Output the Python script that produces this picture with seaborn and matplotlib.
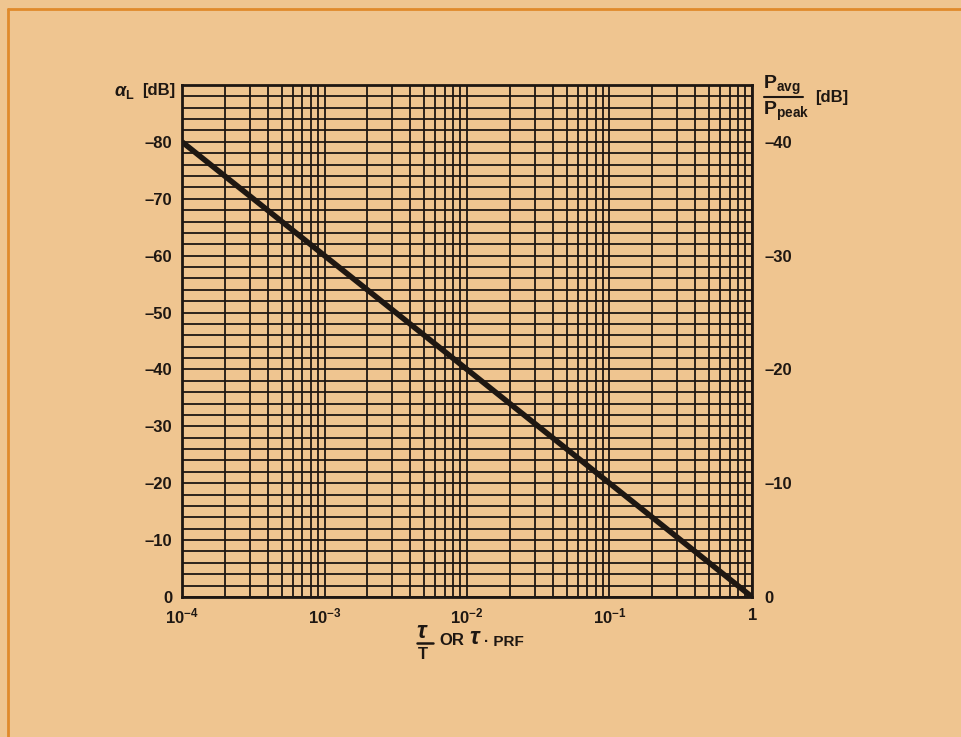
import numpy as np
import pandas as pd
import matplotlib
matplotlib.use("Agg")
import matplotlib.pyplot as plt
import seaborn as sns
from matplotlib.ticker import FixedLocator, MultipleLocator, LogLocator, NullFormatter

# ---- data ----
duty_cycle = [1e-4, 1.0]            # tau/T
alpha_L = [-80, 0]                  # dB
x_ticks = [1e-4, 1e-3, 1e-2, 1e-1, 1]
x_tick_labels = [r"$\mathbf{10^{-4}}$", r"$\mathbf{10^{-3}}$", r"$\mathbf{10^{-2}}$",
                 r"$\mathbf{10^{-1}}$", r"$\mathbf{1}$"]
left_ticks = [0, -10, -20, -30, -40, -50, -60, -70, -80]
left_tick_labels = ["0", "\u201310", "\u201320", "\u201330", "\u201340", "\u201350", "\u201360", "\u201370", "\u201380"]
right_ticks = [0, -10, -20, -30, -40]
right_tick_labels = ["0", "\u201310", "\u201320", "\u201330", "\u201340"]

BG = "#efc590"
INK = "#1e1712"

sns.set_theme(style="white")
plt.rcParams["font.family"] = ["Liberation Sans", "DejaVu Sans"]
plt.rcParams["mathtext.fontset"] = "custom"
plt.rcParams["mathtext.rm"] = "Liberation Sans:bold"
plt.rcParams["mathtext.bf"] = "Liberation Sans:bold"
plt.rcParams["mathtext.it"] = "Liberation Sans:bold:italic"

fig = plt.figure(figsize=(9.62, 7.37), dpi=100, facecolor=BG)
ax = fig.add_axes([0.1892, 0.19, 0.5925, 0.6947])
ax.set_facecolor(BG)

df = pd.DataFrame({"x": duty_cycle, "y": alpha_L})
sns.lineplot(data=df, x="x", y="y", ax=ax, color=INK, linewidth=4, solid_capstyle="butt")

ax.set_xscale("log")
ax.set_xlim(1e-4, 1)
ax.set_ylim(0, -90)

ax.xaxis.set_major_locator(FixedLocator(x_ticks))
ax.set_xticklabels(x_tick_labels)
ax.xaxis.set_minor_locator(LogLocator(base=10, subs=np.arange(2, 10)))
ax.xaxis.set_minor_formatter(NullFormatter())
ax.yaxis.set_major_locator(FixedLocator(left_ticks))
ax.set_yticklabels(left_tick_labels)
ax.yaxis.set_minor_locator(MultipleLocator(2))

ax.grid(True, which="both", color=INK, linewidth=1.3)
ax.set_axisbelow(True)
ax.tick_params(which="both", length=0)
ax.tick_params(axis="x", pad=7, labelsize=12, colors=INK)
ax.tick_params(axis="y", pad=7, labelsize=12, colors=INK)
for lab in ax.get_yticklabels():
    lab.set_fontweight("bold")
for s in ax.spines.values():
    s.set_color(INK)
    s.set_linewidth(2)
ax.set_xlabel("")
ax.set_ylabel("")

ax2 = ax.twinx()
ax2.set_ylim(0, -45)
ax2.yaxis.set_major_locator(FixedLocator(right_ticks))
ax2.set_yticklabels(right_tick_labels)
ax2.tick_params(length=0, pad=9, labelsize=12, colors=INK)
for lab in ax2.get_yticklabels():
    lab.set_fontweight("bold")
ax2.grid(False)
for s in ax2.spines.values():
    s.set_visible(False)

# left axis title
fig.text(0.118, 0.875, r"$\alpha_\mathbf{L}$", fontsize=13, color=INK, ha="left", va="center")
fig.text(0.148, 0.877, "[dB]", fontsize=12, fontweight="bold", color=INK, ha="left", va="center")

# right axis title (fraction)
fig.text(0.793, 0.884, r"$\mathbf{P_{avg}}$", fontsize=14, color=INK, ha="left", va="center")
fig.text(0.793, 0.849, r"$\mathbf{P_{peak}}$", fontsize=14, color=INK, ha="left", va="center")
fig.add_artist(plt.Line2D([0.794, 0.835], [0.868, 0.868], transform=fig.transFigure, color=INK, lw=1.5))
fig.text(0.847, 0.868, "[dB]", fontsize=12, fontweight="bold", color=INK, ha="left", va="center")

# x axis title
fig.text(0.4395, 0.142, r"$\mathit{\tau}$", fontsize=17, color=INK, ha="center", va="center")
fig.text(0.4395, 0.112, "T", fontsize=12, fontweight="bold", color=INK, ha="center", va="center")
fig.add_artist(plt.Line2D([0.4335, 0.4505], [0.1275, 0.1275], transform=fig.transFigure, color=INK, lw=1.8))
fig.text(0.457, 0.131, "OR", fontsize=12, fontweight="bold", color=INK, ha="left", va="center")
fig.text(0.488, 0.134, r"$\mathit{\tau}$", fontsize=17, color=INK, ha="left", va="center")
fig.text(0.503, 0.129, "\u00b7 PRF", fontsize=11, fontweight="bold", color=INK, ha="left", va="center")

# orange page border
border = "#e08a2c"
fig.add_artist(plt.Line2D([0.0085, 0.0085], [0, 0.988], transform=fig.transFigure, color=border, lw=2))
fig.add_artist(plt.Line2D([0.0085, 1], [0.988, 0.988], transform=fig.transFigure, color=border, lw=2))

fig.savefig("out.png", dpi=100, facecolor=BG)
